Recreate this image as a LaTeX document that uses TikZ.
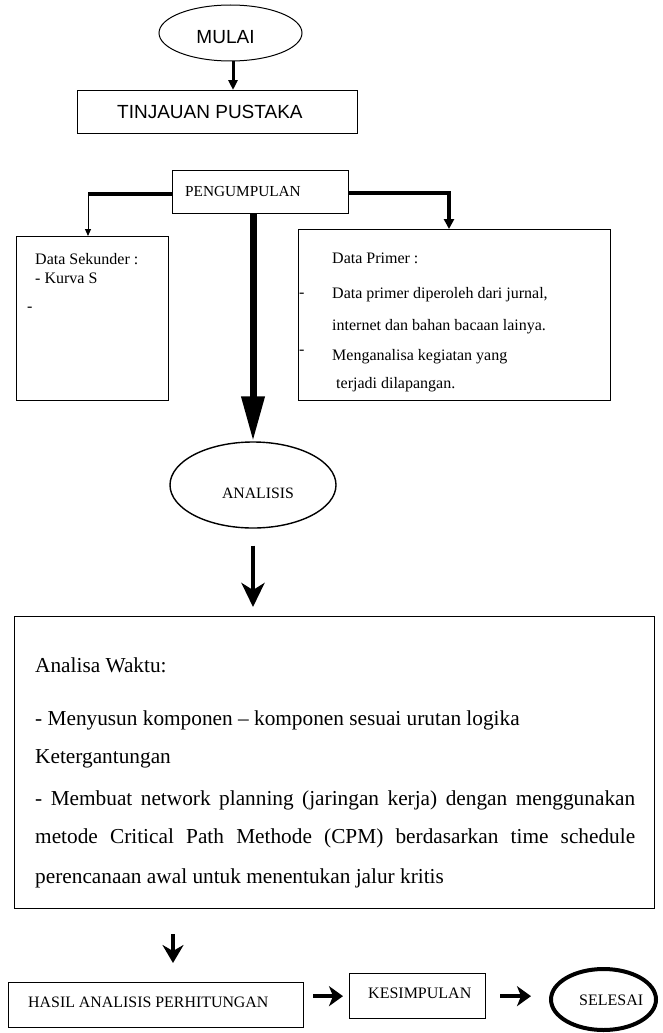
\documentclass[tikz,border=0pt]{standalone}
\usepackage{fontspec}
\setmainfont{Liberation Serif}
\newfontfamily\arialfont{Liberation Sans}
\usetikzlibrary{shapes.geometric,arrows.meta}
\begin{document}
\begin{tikzpicture}[x=1pt,y=-1pt,
  box/.style={draw,line width=1.1pt,inner sep=0pt,rectangle,anchor=north west},
  oval/.style={draw,ellipse,inner sep=0pt},
  txt/.style={inner sep=0pt,anchor=base west,font=\fontsize{16}{19}\selectfont},
  ctxt/.style={inner sep=0pt,anchor=base,font=\fontsize{16}{19}\selectfont},
  sans/.style={inner sep=0pt,font=\arialfont\fontsize{19}{22}\selectfont},
  big/.style={inner sep=0pt,anchor=base west,font=\fontsize{21.3}{25}\selectfont},
  flow/.style={line width=4.5pt,-{Stealth[width=20pt,length=14pt,inset=4pt]}},
]
\useasboundingbox (0,0) rectangle (662,1033);

% start
\node[oval,line width=1pt,minimum width=143pt,minimum height=56pt] (mulai) at (230.5,33) {};
\node[sans,anchor=base] (mulaitxt) at (225.5,44) {MULAI};

\node[box,minimum width=280pt,minimum height=43pt] (tinj) at (77,90) {};
\node[sans,anchor=base west] (tinjtxt) at (117,118) {TINJAUAN PUSTAKA};

\draw[line width=3pt,-{Triangle[width=9pt,length=10pt]}]
  ([xshift=2.5pt]mulai.south) -- ([xshift=2.5pt]mulai.south |- tinj.north);

% collection
\node[box,minimum width=176pt,minimum height=43pt] (peng) at (172,170) {};
\node[txt,font=\fontsize{15.3}{18}\selectfont] (pengtxt) at (185,196) {PENGUMPULAN};

% secondary data
\node[box,minimum width=152pt,minimum height=164pt] (sek) at (16,236) {};
\node[txt] (sek1) at (35,264) {Data Sekunder :};
\node[txt] (sek2) at (35,283) {- Kurva S};
\node[txt] (sek3) at (27,311) {-};

% primary data
\node[box,minimum width=312pt,minimum height=171pt] (prim) at (298,229) {};
\node[txt] (prim1) at (332,263) {Data Primer :};
\node[txt] (prim2) at (332,298) {Data primer diperoleh dari jurnal,};
\node[txt] (prim3) at (332,330) {internet dan bahan bacaan lainya.};
\node[txt] (prim4) at (332,360) {Menganalisa kegiatan yang};
\node[txt] (prim5) at (336,388) {terjadi dilapangan.};
\node[txt] (primd1) at (299,297) {-};
\node[txt] (primd2) at (299,354) {-};

% connectors from PENGUMPULAN
\coordinate (lc) at (88,194);
\coordinate (rc) at (449,193);
\draw[line width=4pt] (peng.west |- lc) -- ([xshift=-0.5pt]lc);
\draw[line width=1pt,-{Triangle[width=6pt,length=7pt]}] ([yshift=-2pt]lc) -- (sek.north -| lc);
\draw[line width=3.5pt,-{Triangle[width=10pt,length=10pt]}] (peng.east |- rc) -- (rc) -- (prim.north -| rc);

% analysis
\node[oval,line width=1.4pt,minimum width=166pt,minimum height=86pt] (analisis) at (253,485) {};
\node[ctxt,font=\fontsize{15.8}{18}\selectfont] (analisistxt) at (258,498) {ANALISIS};

\draw[line width=7pt,-{Triangle[width=22pt,length=45pt]}]
  (peng.south -| analisis.north) -- (analisis.north);

% time analysis box
\node[box,line width=1.3pt,minimum width=640pt,minimum height=292pt] (wbox) at (14,616) {};
\node[big] (w1) at (35,672) {Analisa Waktu:};
\node[big] (w2) at (35,725) {- Menyusun komponen – komponen sesuai urutan logika};
\node[big] (w3) at (35,763) {Ketergantungan};
\node[big] (w4) at (35,805) {\makebox[600pt][s]{- Membuat network planning (jaringan kerja) dengan menggunakan}};
\node[big] (w5) at (35,843) {\makebox[600pt][s]{metode Critical Path Methode (CPM) berdasarkan time schedule}};
\node[big] (w6) at (35,883) {perencanaan awal untuk menentukan jalur kritis};

\draw[line width=4pt,-{Stealth[width=23pt,length=24pt,inset=7pt]},shorten <=17pt,shorten >=9pt]
  (analisis.south) -- (analisis.south |- wbox.north);

% bottom row
\node[box,line width=1.3pt,minimum width=295pt,minimum height=45pt] (hasil) at (8,982) {};
\node[txt,font=\fontsize{15.9}{19}\selectfont] (hasiltxt) at (28,1007) {HASIL ANALISIS PERHITUNGAN};

\node[box,line width=1.3pt,minimum width=136pt,minimum height=45pt] (kes) at (349,973) {};
\node[txt] (kestxt) at (368,998) {KESIMPULAN};

\node[oval,line width=4pt,minimum width=105pt,minimum height=61pt] (sel) at (603.5,999.5) {};
\node[txt] (seltxt) at (579,1005) {SELESAI};

\coordinate (hx) at (173,0);
\draw[line width=4.5pt,-{Stealth[width=21pt,length=18pt,inset=6pt]},shorten <=25pt,shorten >=19pt]
  (wbox.south -| hx) -- (hasil.north -| hx);

\draw[flow,shorten <=9pt,shorten >=6pt] (hasil.east |- kes.west) -- (kes.west);
\draw[flow,shorten <=14pt,shorten >=18pt] (kes.east) -- (kes.east -| sel.west);
\end{tikzpicture}
\end{document}
